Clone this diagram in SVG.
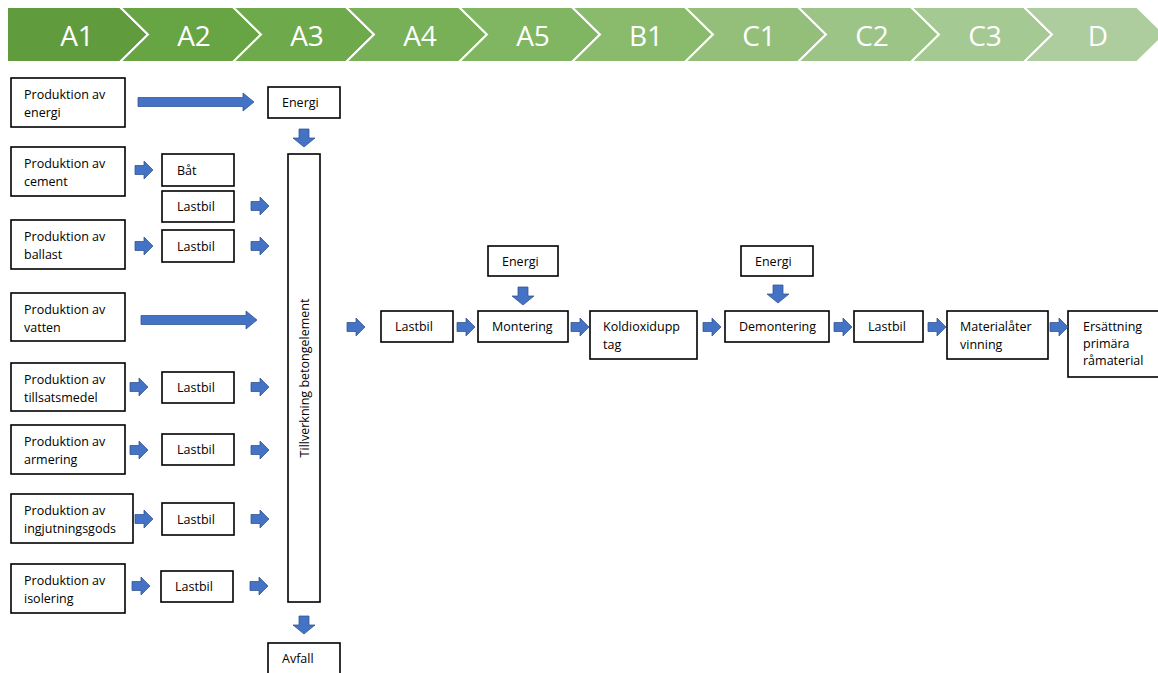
<svg xmlns="http://www.w3.org/2000/svg" xmlns:xlink="http://www.w3.org/1999/xlink" width="1158" height="673" viewBox="0 0 1158 673">
<style>
.ch{stroke:#ffffff;stroke-width:2;stroke-linejoin:miter}
.cht{font-family:"Open Sans","Liberation Sans",sans-serif;font-size:28px;fill:#ffffff;text-anchor:middle}
.bx{fill:#ffffff;stroke:#000000;stroke-width:1.6}
.t{font-family:"Open Sans","Liberation Sans",sans-serif;font-size:12.5px;fill:#000000}
.ar{fill:#4472C4;stroke:#2F528F;stroke-width:0.75}
</style>
<defs>
<path id="ra" class="ar" d="M0,-4.5 H9 V-9 L18,0 L9,9 V4.5 H0 Z"/>
<path id="da" class="ar" d="M-5,0 V9 H-11 L0,18 L11,9 H5 V0 Z"/>
</defs>
<rect width="1158" height="673" fill="#ffffff"/>
<g id="phases">
<polygon class="ch" fill="#609B3E" points="7,7 120,7 148,34.5 120,62 7,62"/>
<polygon class="ch" fill="#67A444" points="120,7 233,7 261,34.5 233,62 120,62 148,34.5"/>
<polygon class="ch" fill="#6EAA4B" points="233,7 346,7 374,34.5 346,62 233,62 261,34.5"/>
<polygon class="ch" fill="#77B056" points="346,7 459,7 487,34.5 459,62 346,62 374,34.5"/>
<polygon class="ch" fill="#80B561" points="459,7 572,7 600,34.5 572,62 459,62 487,34.5"/>
<polygon class="ch" fill="#8ABB6D" points="572,7 685,7 713,34.5 685,62 572,62 600,34.5"/>
<polygon class="ch" fill="#93BF7A" points="685,7 798,7 826,34.5 798,62 685,62 713,34.5"/>
<polygon class="ch" fill="#9CC486" points="798,7 911,7 939,34.5 911,62 798,62 826,34.5"/>
<polygon class="ch" fill="#A5C992" points="911,7 1024,7 1052,34.5 1024,62 911,62 939,34.5"/>
<polygon class="ch" fill="#ADCD9E" points="1024,7 1137,7 1165,34.5 1137,62 1024,62 1052,34.5"/>
<text class="cht" x="77" y="46">A1</text>
<text class="cht" x="194" y="46">A2</text>
<text class="cht" x="307" y="46">A3</text>
<text class="cht" x="420" y="46">A4</text>
<text class="cht" x="533" y="46">A5</text>
<text class="cht" x="646" y="46">B1</text>
<text class="cht" x="759" y="46">C1</text>
<text class="cht" x="872" y="46">C2</text>
<text class="cht" x="985" y="46">C3</text>
<text class="cht" x="1098" y="46">D</text>
</g>
<g id="n-prod-energi"><rect class="bx" x="11" y="78" width="114" height="49"/><text class="t" x="24" y="99">Produktion av</text><text class="t" x="24" y="117">energi</text></g>
<g id="n-prod-cement"><rect class="bx" x="11" y="147" width="114" height="49"/><text class="t" x="24" y="168">Produktion av</text><text class="t" x="24" y="186">cement</text></g>
<g id="n-prod-ballast"><rect class="bx" x="11" y="220" width="114" height="49"/><text class="t" x="24" y="241">Produktion av</text><text class="t" x="24" y="259">ballast</text></g>
<g id="n-prod-vatten"><rect class="bx" x="11" y="293" width="114" height="48"/><text class="t" x="24" y="314">Produktion av</text><text class="t" x="24" y="332">vatten</text></g>
<g id="n-prod-tillsats"><rect class="bx" x="11" y="363" width="114" height="48"/><text class="t" x="24" y="384">Produktion av</text><text class="t" x="24" y="402">tillsatsmedel</text></g>
<g id="n-prod-armering"><rect class="bx" x="11" y="425" width="114" height="49"/><text class="t" x="24" y="446">Produktion av</text><text class="t" x="24" y="464">armering</text></g>
<g id="n-prod-ingjutning"><rect class="bx" x="11" y="494" width="122" height="49"/><text class="t" x="24" y="515">Produktion av</text><text class="t" x="24" y="533">ingjutningsgods</text></g>
<g id="n-prod-isolering"><rect class="bx" x="11" y="564" width="114" height="49"/><text class="t" x="24" y="585">Produktion av</text><text class="t" x="24" y="603">isolering</text></g>
<g id="n-energi1"><rect class="bx" x="268" y="87" width="72" height="31"/><text class="t" x="282" y="107">Energi</text></g>
<g id="n-bat"><rect class="bx" x="162" y="154" width="72" height="32"/><text class="t" x="177" y="175">Båt</text></g>
<g id="n-lastbil-cement"><rect class="bx" x="162" y="191" width="72" height="31"/><text class="t" x="177" y="211">Lastbil</text></g>
<g id="n-lastbil-ballast"><rect class="bx" x="162" y="230" width="72" height="32"/><text class="t" x="177" y="251">Lastbil</text></g>
<g id="n-lastbil-tillsats"><rect class="bx" x="162" y="372" width="72" height="31"/><text class="t" x="177" y="392">Lastbil</text></g>
<g id="n-lastbil-armering"><rect class="bx" x="162" y="434" width="72" height="31"/><text class="t" x="177" y="454">Lastbil</text></g>
<g id="n-lastbil-ingjutning"><rect class="bx" x="162" y="503" width="72" height="32"/><text class="t" x="177" y="524">Lastbil</text></g>
<g id="n-lastbil-isolering"><rect class="bx" x="161" y="571" width="72" height="31"/><text class="t" x="175" y="591">Lastbil</text></g>
<g id="n-tillverkning"><rect class="bx" x="288" y="154" width="32" height="448"/><text class="t" transform="translate(309,378) rotate(-90)" text-anchor="middle">Tillverkning betongelement</text></g>
<g id="n-avfall"><rect class="bx" x="268" y="643" width="72" height="32"/><text class="t" x="282" y="663">Avfall</text></g>
<g id="n-lastbil-a4"><rect class="bx" x="381" y="311" width="72" height="31"/><text class="t" x="395" y="331">Lastbil</text></g>
<g id="n-energi2"><rect class="bx" x="488" y="246" width="70" height="30"/><text class="t" x="502" y="266">Energi</text></g>
<g id="n-montering"><rect class="bx" x="478" y="311" width="90" height="31"/><text class="t" x="492" y="331">Montering</text></g>
<g id="n-koldioxid"><rect class="bx" x="590" y="311" width="107" height="48"/><text class="t" x="603" y="331">Koldioxidupp</text><text class="t" x="603" y="349">tag</text></g>
<g id="n-energi3"><rect class="bx" x="741" y="246" width="72" height="30"/><text class="t" x="755" y="266">Energi</text></g>
<g id="n-demontering"><rect class="bx" x="725" y="311" width="104" height="31"/><text class="t" x="739" y="331">Demontering</text></g>
<g id="n-lastbil-c2"><rect class="bx" x="854" y="311" width="69" height="31"/><text class="t" x="868" y="331">Lastbil</text></g>
<g id="n-materialater"><rect class="bx" x="947" y="311" width="101" height="48"/><text class="t" x="960" y="331">Materialåter</text><text class="t" x="960" y="349">vinning</text></g>
<g id="n-ersattning"><rect class="bx" x="1068" y="311" width="92" height="66"/><text class="t" x="1083" y="331">Ersättning</text><text class="t" x="1083" y="348">primära</text><text class="t" x="1083" y="365">råmaterial</text></g>
<g id="connectors">
<path class="ar" d="M138,97.5 H243 V93 L254,102 L243,111 V106.5 H138 Z"/>
<path class="ar" d="M141,315.5 H246 V311 L257,320 L246,329 V324.5 H141 Z"/>
<use xlink:href="#da" x="304" y="129"/>
<use xlink:href="#da" x="304" y="616"/>
<use xlink:href="#da" x="523" y="287"/>
<use xlink:href="#da" x="778" y="285"/>
<use xlink:href="#ra" x="135" y="170"/>
<use xlink:href="#ra" x="251" y="206"/>
<use xlink:href="#ra" x="135" y="246"/>
<use xlink:href="#ra" x="251" y="246"/>
<use xlink:href="#ra" x="130" y="387"/>
<use xlink:href="#ra" x="251" y="387"/>
<use xlink:href="#ra" x="130" y="450"/>
<use xlink:href="#ra" x="251" y="450"/>
<use xlink:href="#ra" x="135" y="519"/>
<use xlink:href="#ra" x="251" y="519"/>
<use xlink:href="#ra" x="132" y="586"/>
<use xlink:href="#ra" x="250" y="586"/>
<use xlink:href="#ra" x="347" y="327"/>
<use xlink:href="#ra" x="457" y="327"/>
<use xlink:href="#ra" x="571" y="327"/>
<use xlink:href="#ra" x="703" y="327"/>
<use xlink:href="#ra" x="834" y="327"/>
<use xlink:href="#ra" x="928" y="327"/>
<use xlink:href="#ra" x="1050" y="327"/>
</g>
</svg>
